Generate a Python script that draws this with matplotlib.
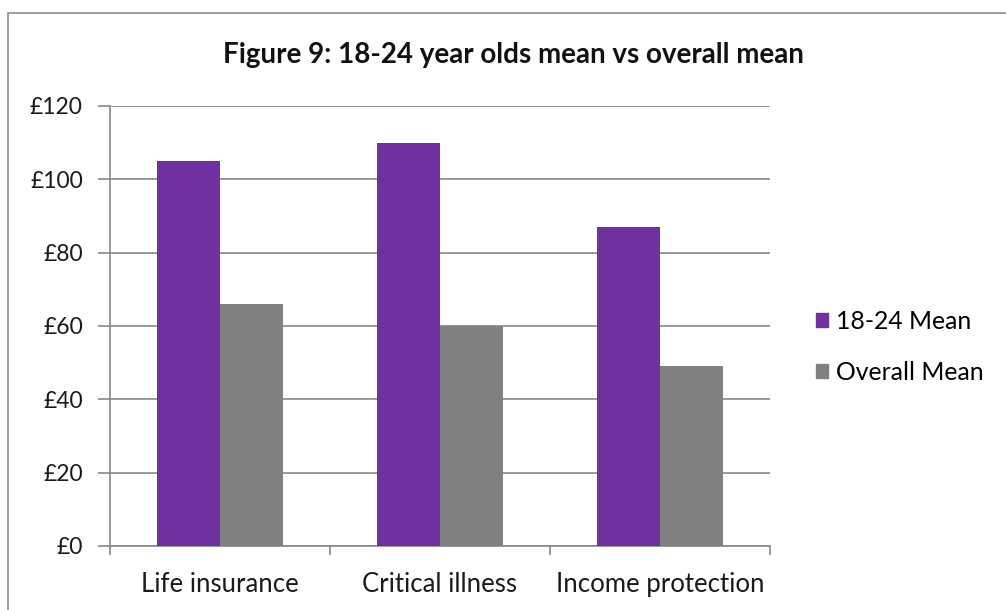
import matplotlib
matplotlib.use("Agg")
import matplotlib.pyplot as plt
import numpy as np
from matplotlib.patches import Rectangle, Patch

categories = ["Life insurance", "Critical illness", "Income protection"]
series_names = ["18-24 Mean", "Overall Mean"]
mean_18_24 = [105, 110, 87]
overall_mean = [66, 60, 49]
y_ticks = [0, 20, 40, 60, 80, 100, 120]
y_tick_labels = ["£0", "£20", "£40", "£60", "£80", "£100", "£120"]

purple = "#7030A0"
grey = "#808080"
line_grey = "#888888"
text_color = "#1a1a1a"

plt.rcParams["font.family"] = ["Lato", "DejaVu Sans"]

W, H = 1006, 610
fig = plt.figure(figsize=(W / 100, H / 100), dpi=100)
fig.patch.set_facecolor("white")

# outer chart border (runs off the right and bottom edges)
fig.add_artist(Rectangle((8 / W, -0.1), 1.2, 1 - 13 / H + 0.1,
                         transform=fig.transFigure, fill=False,
                         edgecolor="#8c8c8c", linewidth=1.2))

ax = fig.add_axes([110 / W, 1 - 546 / H, 660 / W, 440 / H])

x = np.arange(len(categories))
w = 0.286
ax.bar(x - w / 2, mean_18_24, width=w, color=purple, zorder=3)
ax.bar(x + w / 2, overall_mean, width=w, color=grey, zorder=3)

ax.set_xlim(-0.5, len(categories) - 0.5)
ax.set_ylim(0, 120)
ax.set_yticks(y_ticks)
ax.set_yticklabels(y_tick_labels, fontsize=16.5, color=text_color)
ax.yaxis.grid(True, color=line_grey, linewidth=1.2, zorder=0)
ax.tick_params(axis="y", length=8.6, color=line_grey, width=1.2, pad=11)

# category boundaries as x ticks, labels at centres
ax.set_xticks(np.arange(len(categories) + 1) - 0.5)
ax.set_xticklabels([])
ax.tick_params(axis="x", length=6.5, color=line_grey, width=1.2)
for i, c in enumerate(categories):
    ax.text(i, -10.6, c, ha="center", va="center", fontsize=18.5, color=text_color)

for s in ["top", "right"]:
    ax.spines[s].set_visible(False)
for s in ["left", "bottom"]:
    ax.spines[s].set_color(line_grey)
    ax.spines[s].set_linewidth(1.2)

fig.text(513 / W, 1 - 55 / H, "Figure 9: 18-24 year olds mean vs overall mean",
         ha="center", va="center", fontsize=20, fontweight="bold", color="#111111")

handles = [Patch(color=purple), Patch(color=grey)]
fig.legend(handles, series_names, loc="center left",
           bbox_to_anchor=(816 / W, 1 - 347 / H), frameon=False,
           fontsize=17.8, handlelength=0.5, handleheight=0.5,
           handletextpad=0.3, labelspacing=1.15, borderpad=0, borderaxespad=0)

fig.savefig("out.png", dpi=100)
